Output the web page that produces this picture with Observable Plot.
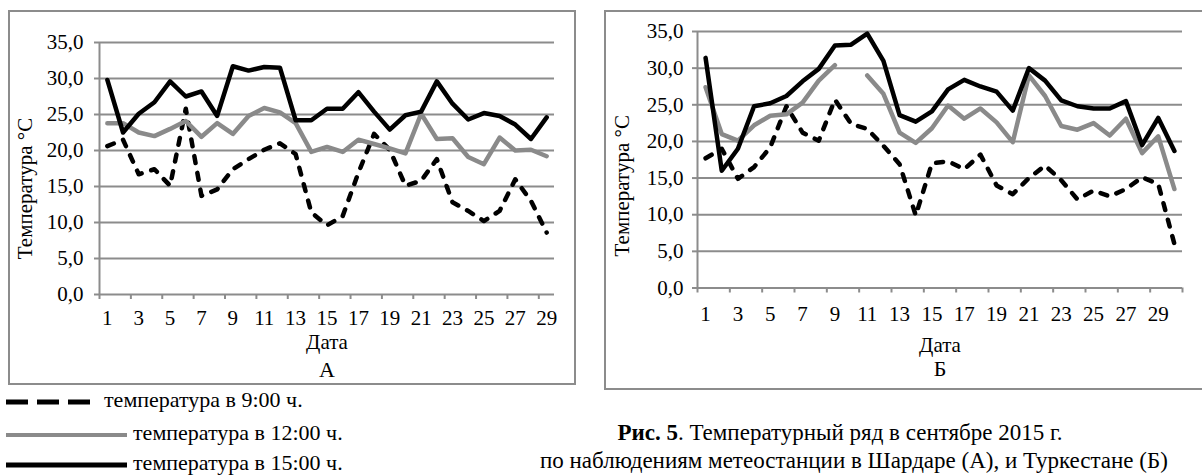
<!DOCTYPE html>
<html><head><meta charset="utf-8">
<script src="https://cdn.jsdelivr.net/npm/d3@7"></script>
<script src="https://cdn.jsdelivr.net/npm/@observablehq/plot@0.6"></script>
<style>
body{margin:0;background:#fff;}
#root{position:relative;width:1202px;height:476px;overflow:hidden;font-family:"Liberation Serif","Times New Roman",serif;color:#000;}
.frame{position:absolute;box-sizing:border-box;border:2px solid #8c8c8c;}
.panel{position:absolute;}
.leg{position:absolute;font-size:22px;white-space:nowrap;line-height:1;}
.leg svg{position:absolute;}
.cap{position:absolute;font-size:23px;white-space:nowrap;text-align:center;line-height:1;}
</style></head>
<body><div id="root"></div>
<script>
// ---- data ----
const daysA = [1,2,3,4,5,6,7,8,9,10,11,12,13,14,15,16,17,18,19,20,21,22,23,24,25,26,27,28,29];
const daysB = [1,2,3,4,5,6,7,8,9,10,11,12,13,14,15,16,17,18,19,20,21,22,23,24,25,26,27,28,29,30];
// Panel A (Шардара)
const a9  = [20.6,21.5,16.7,17.4,15.1,25.8,13.7,14.6,17.4,18.8,20.1,21.0,19.5,11.4,9.6,10.9,16.9,22.3,20.1,15.1,15.8,18.8,12.8,11.6,10.2,11.6,16.0,13.0,8.6];
const a12 = [23.8,23.8,22.5,22.0,23.0,24.1,21.9,23.8,22.3,24.8,25.9,25.3,23.8,19.8,20.5,19.8,21.5,20.9,20.3,19.6,25.1,21.6,21.7,19.1,18.1,21.8,20.0,20.1,19.2];
const a15 = [29.8,22.5,25.1,26.7,29.6,27.5,28.2,24.8,31.7,31.1,31.6,31.5,24.2,24.2,25.8,25.8,28.1,25.4,22.9,24.9,25.4,29.6,26.5,24.3,25.2,24.8,23.6,21.6,24.6];
// Panel B (Туркестан)
const b9  = [17.7,19.0,14.9,16.5,19.2,24.8,21.2,20.1,25.7,22.4,21.7,19.4,16.9,9.9,17.0,17.3,16.2,18.2,14.0,12.8,15.0,16.7,14.7,12.1,13.3,12.5,13.5,15.1,14.2,6.0];
const b12 = [27.4,21.0,20.1,22.2,23.5,23.7,25.3,28.3,30.4,null,29.0,26.5,21.2,19.8,21.8,24.9,23.1,24.5,22.6,19.9,29.0,26.2,22.1,21.6,22.5,20.8,23.1,18.4,20.7,13.5];
const b15 = [31.4,16.0,19.0,24.8,25.2,26.2,28.2,29.9,33.1,33.2,34.7,31.0,23.6,22.7,24.1,27.1,28.4,27.5,26.8,24.2,30.0,28.3,25.6,24.8,24.5,24.5,25.5,19.5,23.2,18.7];
const yTicks = [0,5,10,15,20,25,30,35];
const xLabelsA = [1,3,5,7,9,11,13,15,17,19,21,23,25,27,29];
const xLabelsB = [1,3,5,7,9,11,13,15,17,19,21,23,25,27,29];
const seriesNames = ["температура в 9:00 ч.","температура в 12:00 ч.","температура в 15:00 ч."];
const yLabel = "Температура °С";
const xLabel = "Дата";
const captionBold = "Рис. 5";
const captionRest = ". Температурный ряд в сентябре 2015 г.";
const captionLine2 = "по наблюдениям метеостанции в Шардаре (А), и Туркестане (Б)";

const GRID = "#8c8c8c";
const GRAYLINE = "#8a8a8a";
const FONT = "Liberation Serif";
const fmt = d => d.toFixed(1).replace(".", ",");

function toRows(days, vals){ return days.map((d,i)=>({day:d, t:vals[i]})); }

function panel(o){
  const n = o.days.length;
  const bounds = [];
  for (let b = 0.5; b <= n + 0.5 + 1e-9; b += 2) bounds.push(b);
  return Plot.plot({
    width:o.width, height:o.height,
    marginTop:o.mt, marginBottom:o.mb, marginLeft:o.ml, marginRight:o.mr,
    style:{fontFamily:FONT, fontSize:"21px", background:"transparent", color:"#000", overflow:"visible"},
    x:{type:"linear", domain:[0.5, n+0.5], axis:null},
    y:{domain:[0,35], axis:null},
    marks:[
      Plot.ruleY(yTicks, {stroke:GRID, strokeWidth:2}),
      Plot.ruleX([0.5], {y1:0, y2:35, stroke:GRID, strokeWidth:2}),
      Plot.axisY({ticks:yTicks, tickSize:5, tickPadding:o.yPad, tickFormat:fmt, stroke:GRID, strokeWidth:2, fill:"#000", fontSize:21, fontFamily:FONT, label:null}),
      Plot.axisX({ticks:bounds, tickSize:5, tickFormat:()=>"", stroke:GRID, strokeWidth:2, label:null}),
      Plot.axisX({ticks:o.labels, tickSize:0, tickPadding:o.xPad, tickFormat:d=>String(d), fill:"#000", fontSize:21, fontFamily:FONT, label:null}),
      Plot.line(toRows(o.days,o.s9),  {x:"day", y:"t", stroke:"#000", strokeWidth:4.5, strokeDasharray:"7,10", strokeLinecap:"round", strokeLinejoin:"round"}),
      Plot.line(toRows(o.days,o.s12), {x:"day", y:"t", stroke:GRAYLINE, strokeWidth:4.5, strokeLinejoin:"round"}),
      Plot.line(toRows(o.days,o.s15), {x:"day", y:"t", stroke:"#000", strokeWidth:4.5, strokeLinejoin:"round"}),
      Plot.text([yLabel], {frameAnchor:"left", rotate:-90, textAnchor:"middle", lineAnchor:"middle", dx:o.ylDx, dy:o.ylDy, fontSize:21, fontFamily:FONT, fill:"#000"}),
      Plot.text([xLabel], {frameAnchor:"bottom", lineAnchor:"middle", dy:o.xlDy, fontSize:21, fontFamily:FONT, fill:"#000"}),
      Plot.text([o.letter], {frameAnchor:"bottom", lineAnchor:"middle", dy:o.letDy, fontSize:22, fontFamily:FONT, fill:"#000"})
    ]
  });
}

const root = document.getElementById("root");

const svgA = panel({days:daysA, s9:a9, s12:a12, s15:a15, labels:xLabelsA, letter:"А",
  width:568, height:375, mt:32, mb:91, ml:91, mr:22, yPad:11, xPad:16,
  ylDx:-74, ylDy:20, xlDy:48, letDy:75});
svgA.classList.add("panel"); svgA.style.left="8px"; svgA.style.top="10px";
root.appendChild(svgA);

const svgB = panel({days:daysB, s9:b9, s12:b12, s15:b15, labels:xLabelsB, letter:"Б",
  width:598, height:380, mt:21, mb:102.5, ml:93, mr:20, yPad:9, xPad:18,
  ylDx:-75, ylDy:26, xlDy:57.5, letDy:80.5});
svgB.classList.add("panel"); svgB.style.left="604px"; svgB.style.top="10px";
root.appendChild(svgB);

// frames
[[8,10,568,375],[604,10,610,380]].forEach(([l,t,w,h])=>{
  const f=document.createElement("div"); f.className="frame";
  Object.assign(f.style,{left:l+"px",top:t+"px",width:w+"px",height:h+"px"});
  root.appendChild(f);
});

// legend
const legSpec = [
  {y:400, x1:6, x2:90, tx:104, stroke:"#000", dash:"22,9", w:5},
  {y:433, x1:6, x2:127, tx:133, stroke:GRAYLINE, dash:null, w:4},
  {y:463, x1:6, x2:127, tx:133, stroke:"#000", dash:null, w:5}
];
legSpec.forEach((s,i)=>{
  const d=document.createElement("div"); d.className="leg";
  d.style.left="0px"; d.style.top=(s.y-11)+"px"; d.style.width="400px"; d.style.height="22px";
  d.innerHTML = `<svg width="140" height="22" style="left:0;top:0"><line x1="${s.x1}" x2="${s.x2}" y1="13" y2="13" stroke="${s.stroke}" stroke-width="${s.w}" ${s.dash?`stroke-dasharray="${s.dash}"`:""}/></svg><span style="position:absolute;left:${s.tx}px;top:0">${seriesNames[i]}</span>`;
  root.appendChild(d);
});

// caption
const c1=document.createElement("div"); c1.className="cap";
Object.assign(c1.style,{left:"540px",width:"600px",top:"421px"});
c1.innerHTML=`<b>${captionBold}</b>${captionRest}`;
root.appendChild(c1);
const c2=document.createElement("div"); c2.className="cap";
Object.assign(c2.style,{left:"540px",width:"600px",top:"449px"});
c2.textContent=captionLine2;
root.appendChild(c2);
</script>
</body></html>
